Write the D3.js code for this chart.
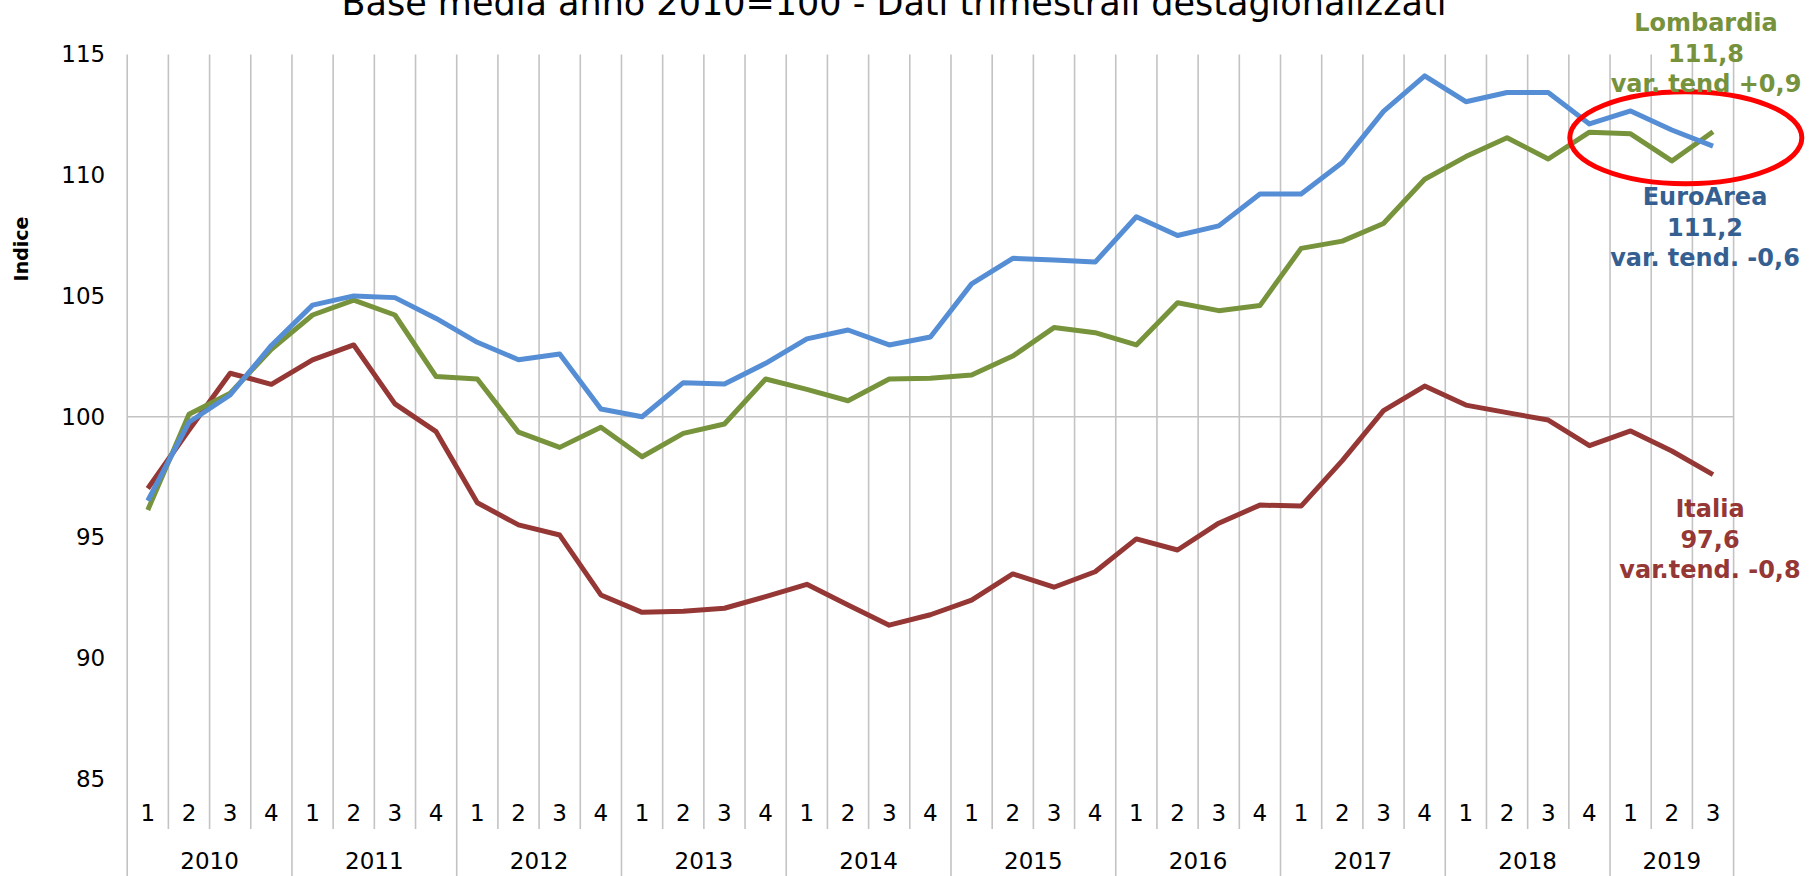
<!DOCTYPE html>
<html>
<head>
<meta charset="utf-8">
<script src="https://cdn.jsdelivr.net/npm/d3@7"></script>
<style>
  body { margin: 0; background: #fff; }
  svg { display: block; font-family: "DejaVu Sans", Verdana, sans-serif; }
</style>
</head>
<body>
<div id="chart"></div>
<script>
// years and how many quarters each one has
var years = ["2010", "2011", "2012", "2013", "2014", "2015", "2016", "2017", "2018", "2019"];
var quartersPerYear = [4, 4, 4, 4, 4, 4, 4, 4, 4, 3];

// index values (2010=100)
var euroArea = [96.52, 99.77, 100.9, 102.95, 104.62, 105.0, 104.93, 104.07, 103.08, 102.36,
  102.6, 100.32, 100.0, 101.41, 101.35, 102.21, 103.22, 103.59, 102.97, 103.3,
  105.5, 106.56, 106.49, 106.4, 108.28, 107.5, 107.9, 109.22, 109.22, 110.52,
  112.64, 114.11, 113.04, 113.42, 113.42, 112.12, 112.66, 111.87, 111.2];

var lombardia = [96.14, 100.1, 100.97, 102.79, 104.21, 104.83, 104.21, 101.66, 101.56, 99.36,
  98.73, 99.56, 98.34, 99.31, 99.7, 101.56, 101.13, 100.66, 101.56, 101.59,
  101.73, 102.51, 103.69, 103.48, 102.97, 104.72, 104.39, 104.6, 106.97, 107.27,
  108.0, 109.83, 110.77, 111.55, 110.67, 111.78, 111.71, 110.59, 111.8];

var italia = [97.03, 99.45, 101.8, 101.34, 102.35, 102.97, 100.53, 99.38, 96.44, 95.52,
  95.1, 92.62, 91.9, 91.95, 92.07, 92.55, 93.06, 92.2, 91.37, 91.8,
  92.41, 93.49, 92.94, 93.58, 94.94, 94.48, 95.59, 96.34, 96.3, 98.18,
  100.25, 101.27, 100.48, 100.17, 99.86, 98.8, 99.41, 98.58, 97.6];

var yTicks = [85, 90, 95, 100, 105, 110, 115];

var title = "Base media anno 2010=100 - Dati trimestrali destagionalizzati";

var svgWidth = 1810;
var svgHeight = 876;

var margin = {
  top: 54.4,
  right: 76.4,
  bottom: 97,
  left: 127.2
};

var width = svgWidth - margin.left - margin.right;
var height = svgHeight - margin.top - margin.bottom;

var svg = d3.select("#chart")
  .append("svg")
  .attr("width", svgWidth)
  .attr("height", svgHeight);

var chartGroup = svg.append("g")
  .attr("transform", `translate(${margin.left}, ${margin.top})`);

// one key per quarter, e.g. "2010-1"
var keys = [];
years.forEach(function(yr, i) {
  for (var q = 1; q <= quartersPerYear[i]; q++) {
    keys.push(yr + "-" + q);
  }
});

var x = d3.scaleBand()
  .domain(keys)
  .range([0, width])
  .padding(0);

var y = d3.scaleLinear()
  .domain([85, 115])
  .range([height, 0]);

var xc = function(k) { return x(k) + x.bandwidth() / 2; };

var gridColor = "#c3c3c3";

// vertical separators: quarter lines stop under the quarter labels, year lines go to the bottom
var bounds = keys.map(function(k) {
  return { pos: x(k), yearStart: k.slice(-2) === "-1" };
});
bounds.push({ pos: width, yearStart: true });

chartGroup.append("g")
  .selectAll("line")
  .data(bounds)
  .enter()
  .append("line")
  .attr("x1", d => d.pos)
  .attr("x2", d => d.pos)
  .attr("y1", 0)
  .attr("y2", d => d.yearStart ? height + margin.bottom : height + 50)
  .attr("stroke", gridColor)
  .attr("stroke-width", 1.6);

// horizontal axis line at 100
chartGroup.append("line")
  .attr("x1", 0)
  .attr("x2", width)
  .attr("y1", y(100))
  .attr("y2", y(100))
  .attr("stroke", gridColor)
  .attr("stroke-width", 1.6);

// y axis
var leftAxis = d3.axisLeft(y)
  .tickValues(yTicks)
  .tickSize(0)
  .tickPadding(22);

var yAxis = chartGroup.append("g").call(leftAxis);
yAxis.select(".domain").remove();
yAxis.selectAll("text")
  .attr("font-family", "DejaVu Sans, sans-serif")
  .attr("font-size", 23)
  .attr("fill", "#000");

// quarter labels
chartGroup.append("g")
  .selectAll("text")
  .data(keys)
  .enter()
  .append("text")
  .attr("x", d => xc(d))
  .attr("y", height + 34)
  .attr("dy", "0.36em")
  .attr("text-anchor", "middle")
  .attr("font-size", 23)
  .attr("fill", "#000")
  .text(d => d.split("-")[1]);

// year labels centred under their quarters
var yearData = years.map(function(yr, i) {
  var ks = keys.filter(k => k.indexOf(yr) === 0);
  return { year: yr, mid: (x(ks[0]) + x(ks[ks.length - 1]) + x.bandwidth()) / 2 };
});

chartGroup.append("g")
  .selectAll("text")
  .data(yearData)
  .enter()
  .append("text")
  .attr("x", d => d.mid)
  .attr("y", height + 82)
  .attr("dy", "0.36em")
  .attr("text-anchor", "middle")
  .attr("font-size", 23)
  .attr("fill", "#000")
  .text(d => d.year);

// y axis title
svg.append("text")
  .attr("transform", "translate(28, 249) rotate(-90)")
  .attr("text-anchor", "middle")
  .attr("font-size", 19)
  .attr("font-weight", "bold")
  .attr("fill", "#000")
  .text("Indice");

// chart title (cut at the top like the original)
svg.append("text")
  .attr("x", 894)
  .attr("y", 15)
  .attr("text-anchor", "middle")
  .attr("font-size", 35)
  .attr("fill", "#000")
  .text(title);

// series
var series = [
  { name: "Italia", values: italia, color: "#953735" },
  { name: "Lombardia", values: lombardia, color: "#77933c" },
  { name: "EuroArea", values: euroArea, color: "#558ed5" }
];

var line = d3.line()
  .x((d, i) => xc(keys[i]))
  .y(d => y(d));

chartGroup.append("g")
  .selectAll("path")
  .data(series)
  .enter()
  .append("path")
  .attr("d", d => line(d.values))
  .attr("fill", "none")
  .attr("stroke", d => d.color)
  .attr("stroke-width", 5)
  .attr("stroke-linejoin", "round");

// red ellipse round the last quarters
var last = keys.length - 1;
chartGroup.append("ellipse")
  .attr("cx", xc(keys[last - 1]) + 14)
  .attr("cy", y(111.55))
  .attr("rx", 116)
  .attr("ry", 46)
  .attr("fill", "none")
  .attr("stroke", "#ff0000")
  .attr("stroke-width", 5);

// end labels
var notes = [
  { lines: ["Lombardia", "111,8", "var. tend +0,9"], x: 1706, y: 31, color: "#76923c" },
  { lines: ["EuroArea", "111,2", "var. tend. -0,6"], x: 1705, y: 205, color: "#365f91" },
  { lines: ["Italia", "97,6", "var.tend. -0,8"], x: 1710, y: 517, color: "#953735" }
];

notes.forEach(function(n) {
  var t = svg.append("text")
    .attr("text-anchor", "middle")
    .attr("font-size", 24)
    .attr("font-weight", "bold")
    .attr("fill", n.color);
  n.lines.forEach(function(s, i) {
    t.append("tspan")
      .attr("x", n.x)
      .attr("y", n.y + i * 30.5)
      .text(s);
  });
});
</script>
</body>
</html>
